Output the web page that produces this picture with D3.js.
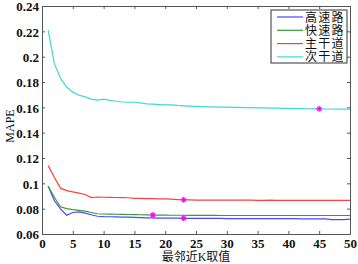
<!DOCTYPE html>
<html>
<head>
<meta charset="utf-8">
<script src="https://cdn.jsdelivr.net/npm/d3@7"></script>
<style>
  body { margin: 0; background: #fff; }
  svg { display: block; }
  .tick text { font-family: "Liberation Serif", serif; font-weight: bold; font-size: 13px; }
</style>
</head>
<body>
<div id="chart"></div>
<script>
// k values 1..50 and MAPE per road class
const kValues = d3.range(1, 51);
const seriesNames = ["高速路", "快速路", "主干道", "次干道"];
const seriesColors = ["#4a4aff", "#3a9a3a", "#ff4040", "#40d8d8"];

const highway = [0.0977, 0.0864, 0.0798, 0.0748, 0.0770, 0.0775, 0.0765, 0.0752, 0.0740, 0.0737,
  0.0736, 0.0735, 0.0734, 0.0733, 0.0731, 0.0730, 0.0728, 0.0727, 0.0726, 0.0726,
  0.0725, 0.0725, 0.0724, 0.0724, 0.0724, 0.0723, 0.0723, 0.0723, 0.0723, 0.0722,
  0.0722, 0.0722, 0.0722, 0.0722, 0.0721, 0.0721, 0.0721, 0.0721, 0.0721, 0.0721,
  0.0721, 0.0720, 0.0720, 0.0720, 0.0720, 0.0720, 0.0714, 0.0714, 0.0714, 0.0718];
const expressway = [0.0977, 0.0890, 0.0815, 0.0800, 0.0792, 0.0787, 0.0780, 0.0770, 0.0760, 0.0758,
  0.0757, 0.0756, 0.0755, 0.0754, 0.0753, 0.0752, 0.0751, 0.0750, 0.0749, 0.0749,
  0.0748, 0.0748, 0.0748, 0.0747, 0.0747, 0.0747, 0.0747, 0.0747, 0.0746, 0.0746,
  0.0746, 0.0746, 0.0746, 0.0746, 0.0746, 0.0746, 0.0746, 0.0746, 0.0746, 0.0746,
  0.0746, 0.0746, 0.0746, 0.0746, 0.0746, 0.0746, 0.0746, 0.0746, 0.0746, 0.0746];
const arterial = [0.1140, 0.1048, 0.0962, 0.0943, 0.0932, 0.0923, 0.0912, 0.0888, 0.0892, 0.0890,
  0.0889, 0.0888, 0.0887, 0.0886, 0.0882, 0.0881, 0.0880, 0.0880, 0.0878, 0.0877,
  0.0875, 0.0872, 0.0870, 0.0869, 0.0868, 0.0868, 0.0867, 0.0867, 0.0867, 0.0867,
  0.0867, 0.0867, 0.0867, 0.0867, 0.0865, 0.0865, 0.0868, 0.0865, 0.0865, 0.0865,
  0.0865, 0.0865, 0.0865, 0.0865, 0.0865, 0.0865, 0.0865, 0.0865, 0.0865, 0.0865];
const secondary = [0.2210, 0.1947, 0.1830, 0.1760, 0.1720, 0.1696, 0.1683, 0.1665, 0.1657, 0.1665,
  0.1655, 0.1648, 0.1642, 0.1640, 0.1640, 0.1635, 0.1628, 0.1625, 0.1622, 0.1620,
  0.1620, 0.1615, 0.1612, 0.1610, 0.1608, 0.1606, 0.1604, 0.1603, 0.1602, 0.1601,
  0.1600, 0.1599, 0.1598, 0.1597, 0.1596, 0.1595, 0.1594, 0.1593, 0.1592, 0.1591,
  0.1590, 0.1590, 0.1589, 0.1588, 0.1588, 0.1587, 0.1587, 0.1586, 0.1586, 0.1586];
const allSeries = [highway, expressway, arterial, secondary];

// highlighted points (series index, k)
const markers = [[0, 23], [1, 18], [2, 23], [3, 45]];

const xTicks = [0, 5, 10, 15, 20, 25, 30, 35, 40, 45, 50];
const yTicks = [0.06, 0.08, 0.1, 0.12, 0.14, 0.16, 0.18, 0.2, 0.22, 0.24];

const width = 358, height = 264;
const margin = { top: 6, right: 8, bottom: 30, left: 42 };
const innerW = width - margin.left - margin.right;
const innerH = height - margin.top - margin.bottom;

const svg = d3.select("#chart").append("svg")
    .attr("width", width)
    .attr("height", height);

const g = svg.append("g")
    .attr("transform", `translate(${margin.left},${margin.top})`);

const x = d3.scaleLinear().domain([0, 50]).range([0, innerW]);
const y = d3.scaleLinear().domain([0.06, 0.24]).range([innerH, 0]);

// --- axes (ticks pointing inward, box around plot) ---
const fmt = d => d3.format("")(+d.toFixed(2));

const xAxis = g.append("g")
    .attr("transform", `translate(0,${innerH})`)
    .call(d3.axisBottom(x).tickValues(xTicks).tickSize(-3).tickPadding(5).tickFormat(d3.format("d")));
const yAxis = g.append("g")
    .call(d3.axisLeft(y).tickValues(yTicks).tickSize(-3).tickPadding(3).tickFormat(fmt));
g.append("g")
    .call(d3.axisTop(x).tickValues(xTicks).tickSize(-3).tickFormat(""));
g.append("g")
    .attr("transform", `translate(${innerW},0)`)
    .call(d3.axisRight(y).tickValues(yTicks).tickSize(-3).tickFormat(""));

g.selectAll(".domain").attr("stroke", "#555");
g.selectAll(".tick line").attr("stroke", "#555");
xAxis.selectAll("text").attr("fill", "#111");
yAxis.selectAll("text").attr("fill", "#111").attr("dy", "0.38em");

// --- lines ---
const line = d3.line()
    .x((d, i) => x(kValues[i]))
    .y(d => y(d));

allSeries.forEach((s, i) => {
    g.append("path")
        .datum(s)
        .attr("fill", "none")
        .attr("stroke", seriesColors[i])
        .attr("stroke-width", 1.2)
        .attr("d", line);
});

// --- markers ---
markers.forEach(([si, k]) => {
    const cx = x(k), cy = y(allSeries[si][k - 1]);
    const m = g.append("g").attr("transform", `translate(${cx},${cy})`)
        .attr("stroke", "#ff00ff").attr("stroke-width", 1.2);
    m.append("line").attr("x1", -3).attr("x2", 3);
    m.append("line").attr("y1", -3).attr("y2", 3);
    m.append("line").attr("x1", -2).attr("x2", 2).attr("y1", -2).attr("y2", 2);
    m.append("line").attr("x1", -2).attr("x2", 2).attr("y1", 2).attr("y2", -2);
});

// --- legend ---
const legend = g.append("g").attr("transform", `translate(${innerW - 79},4)`);
legend.append("rect")
    .attr("width", 76).attr("height", 53)
    .attr("fill", "#fff").attr("stroke", "#333").attr("stroke-width", 1);
seriesNames.forEach((name, i) => {
    const ly = 7 + i * 13.3;
    legend.append("line")
        .attr("x1", 6).attr("x2", 32).attr("y1", ly).attr("y2", ly)
        .attr("stroke", seriesColors[i]).attr("stroke-width", 1.2);
    legend.append("text")
        .attr("x", 34).attr("y", ly).attr("dy", "0.38em")
        .attr("font-family", "Noto Sans CJK SC")
        .attr("font-size", 12).attr("fill", "#111")
        .attr("letter-spacing", 1.3)
        .text(name);
});

// --- axis titles ---
svg.append("text")
    .attr("x", margin.left + innerW / 2).attr("y", 261)
    .attr("text-anchor", "middle")
    .attr("font-family", "Liberation Serif, Noto Sans CJK SC")
    .attr("font-size", 12).attr("fill", "#111")
    .text("最邻近K取值");
svg.append("text")
    .attr("transform", `translate(14,${margin.top + innerH / 2 + 6}) rotate(-90)`)
    .attr("text-anchor", "middle")
    .attr("font-family", "Liberation Serif, serif")
    .attr("font-size", 12).attr("fill", "#111")
    .text("MAPE");
</script>
</body>
</html>
